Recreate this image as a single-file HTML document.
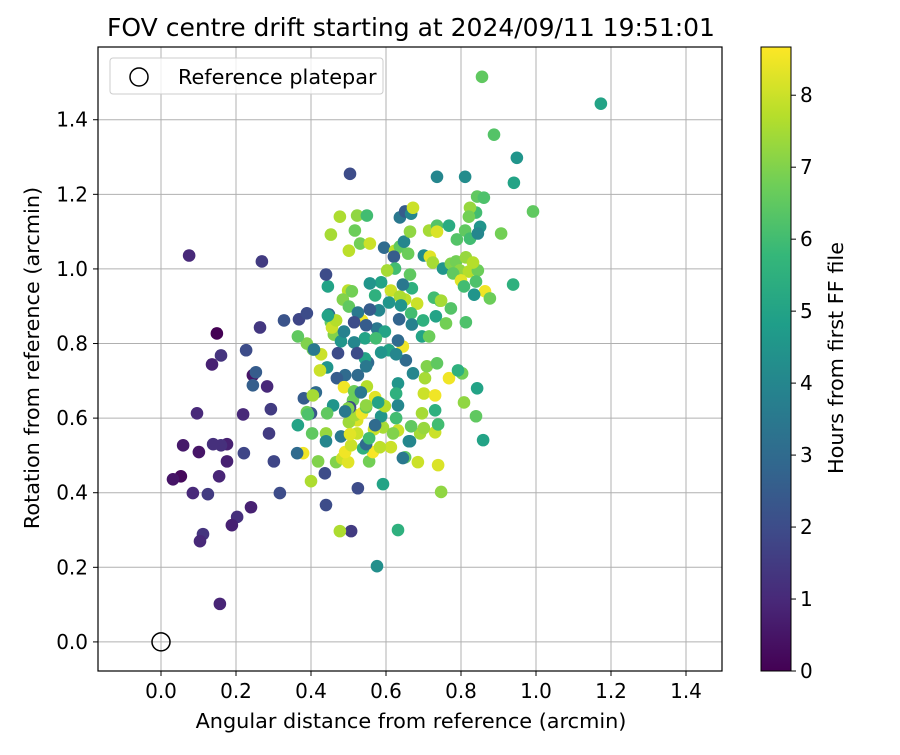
<!DOCTYPE html>
<html><head><meta charset="utf-8"><style>
html,body{margin:0;padding:0;background:#fff;}
svg text{font-family:"DejaVu Sans","Liberation Sans",sans-serif;fill:#000;}
</style></head><body>
<svg id="chart" width="900" height="750" xmlns="http://www.w3.org/2000/svg">
<text x="411" y="36" font-size="25" text-anchor="middle">FOV centre drift starting at 2024/09/11 19:51:01</text>
<g id="grid"></g>
<g id="points"></g>
<g id="axes"></g>
<text x="411" y="728" font-size="20.8" text-anchor="middle">Angular distance from reference (arcmin)</text>
<text transform="translate(39,358) rotate(-90)" font-size="20.8" text-anchor="middle">Rotation from reference (arcmin)</text>
<g>
<rect x="110" y="58" width="273" height="36" rx="3" fill="#fff" fill-opacity="0.8" stroke="#ccc"/>
<circle cx="139" cy="77" r="9" fill="none" stroke="#000" stroke-width="1.5"/>
<text x="178" y="84" font-size="20.8">Reference platepar</text>
</g>
<defs><linearGradient id="vir" x1="0" y1="1" x2="0" y2="0"></linearGradient></defs>
<g id="cbar"></g>
<text transform="translate(843,358) rotate(-90)" font-size="20.8" text-anchor="middle">Hours from first FF file</text>
</svg>
<script>
const xTicks=[0.0,0.2,0.4,0.6,0.8,1.0,1.2,1.4];
const yTicks=[0.0,0.2,0.4,0.6,0.8,1.0,1.2,1.4];
const cTicks=[0,1,2,3,4,5,6,7,8];
const xs=[1.173,.856,.888,.949,.941,.992,.907,.939,.504,.736,.811,.075,.269,.149,.16,.136,.227,.264,.368,.328,.245,.253,.245,.219,.096,.283,.293,.381,.288,.301,.176,.139,.16,.101,.221,.176,.059,.053,.032,.155,.085,.125,.317,.24,.203,.189,.112,.104,.157,.576,.632,.507,.477,.44,.437,.525,.592,.747,.739,.685,.651,.4,.419,.379,.467,.483,.499,.555,.565,.491,.507,.539,.613,.661,.859,.592,.568,.523,.523,.501,.517,.536,.632,.619,.691,.731,.701,.739,.696,.667,.632,.587,.584,.547,.571,.597,.808,.84,.843,.768,.704,.803,.792,.709,.632,.672,.653,.552,.544,.491,.443,.469,.488,.515,.549,.579,.512,.504,.459,.4,.389,.443,.499,.547,.403,.365,.44,.44,.48,.547,.555,.363,.392,.427,.424,.461,.472,.389,.365,.405,.445,.448,.453,.456,.467,.44,.453,.477,.517,.501,.523,.549,.531,.557,.595,.624,.637,.648,.637,.651,.667,.672,.664,.659,.621,.701,.715,.736,.768,.736,.717,.725,.752,.773,.787,.797,.779,.821,.845,.813,.832,.811,.824,.843,.861,.84,.851,.845,.824,.821,.789,.8,.864,.877,.835,.84,.808,.813,.744,.728,.747,.733,.773,.683,.651,.613,.637,.669,.645,.664,.624,.603,.587,.557,.571,.64,.635,.667,.669,.699,.696,.715,.76,.645,.608,.627,.587,.632,.576,.597,.581,.608,.536,.499,.509,.485,.501,.525,.557,.547,.515,.544,.573,.515,.48,.525,.533,.627,.701,.731,.736,.627,.731,.413,.523,.547,.389,.408,.488,.445,.405,.491,.571,.645,.664,.584,.504];
const ys=[1.443,1.515,1.36,1.298,1.231,1.154,1.095,.958,1.255,1.247,1.247,1.036,1.02,.827,.768,.744,.782,.843,.865,.862,.715,.723,.688,.61,.613,.685,.624,.653,.559,.484,.53,.53,.527,.509,.506,.484,.527,.444,.436,.444,.399,.396,.399,.361,.335,.313,.289,.27,.102,.203,.3,.297,.297,.367,.452,.412,.423,.402,.474,.482,.495,.431,.484,.506,.482,.492,.482,.484,.509,.509,.527,.519,.522,.538,.541,.575,.57,.559,.594,.589,.608,.613,.567,.559,.559,.562,.573,.583,.613,.578,.634,.605,.64,.629,.656,.632,.642,.605,.68,.707,.707,.72,.728,.739,.693,.72,.755,.749,.76,.715,.736,.707,.683,.672,.685,.642,.648,.629,.634,.613,.616,.613,.626,.634,.559,.581,.559,.538,.551,.53,.546,.506,.61,.771,.728,.824,.774,.8,.819,.784,.953,.878,.857,.843,.862,.985,1.092,1.14,1.103,1.049,1.143,1.143,1.068,1.068,1.057,1.049,1.06,1.073,1.138,1.154,1.148,1.164,1.1,1.041,1.033,1.036,1.103,1.116,1.116,1.1,1.033,1.017,1.001,1.014,1.02,.996,.988,.993,.996,1.031,1.017,1.103,1.081,1.194,1.191,1.151,1.113,1.095,1.164,1.14,1.079,.969,.94,.921,.931,.966,.953,.857,.915,.923,.915,.873,.894,.907,.918,.942,.926,.948,.958,.985,1.001,.996,.964,.961,.929,.902,.865,.881,.851,.862,.819,.819,.854,.792,.782,.771,.776,.808,.84,.832,.889,.91,.862,.942,.94,.918,.899,.883,.891,.849,.857,.814,.814,.803,.806,.715,.669,.666,.666,.661,.747,.6,.621,.669,.774,.739,.881,.784,.832,.875,.661,.618,.581,.493,.538,.522,.557];
const hours=[5,6.5,6.3,4.5,5,6.5,6.8,5.5,2,4,4.2,1,1.5,0,1.3,.8,2,1.4,1.8,2.2,.5,2.5,2.6,1,1,1,1.5,2.5,1.5,1.8,.8,1.2,1.2,.5,1.8,.8,.6,.2,.5,.9,1,1.5,2,.8,1.2,.8,1.3,1,.9,4.3,5.5,1.5,7.6,2,2,2,5,7.2,8.2,8,6.5,7.6,7,8.5,7,8,8.3,6.8,8.6,8.5,8,5.5,8,4.3,5,7.5,8,8,8.2,7.4,7.5,8.5,8,7,7.5,8,7.3,6,7.5,6.5,4,4.5,6.8,6.5,8.3,7.7,7.2,6.5,5,8.5,7.5,6.8,5.5,7,4.5,4,3,3,5,3,4.5,2.5,8.5,6.7,7.7,5,6.7,2,4.5,2.3,6.7,6.5,7,7.2,6.5,5,7.3,4,3.5,3,6,3,6.2,8,8,7,2,7,6.5,6.8,5,3,6.5,8,7.7,2,7.5,7.6,6.7,7.8,7.2,6,6.8,8,3,7.8,6.5,4,3.5,2.5,4,8,7.2,6.7,2.5,4.2,7.5,6.3,5.3,8.2,8.3,7.5,4.5,7,6.8,7.2,6.5,7.7,6.7,7.3,7.7,6.5,6,6.5,6.2,6,4.5,4,7.3,6.8,6.3,8.3,8.5,6.7,4.5,6.2,6,6.2,6.5,6,7.5,5,6.3,8,7.8,8,7.6,5.5,3.5,6.5,6,7.5,5,4.5,5.5,4.5,2.8,6,3.8,5.5,5,6.7,6.8,8.5,5,4,4.5,3,3.5,5,4,4.5,8.5,7.8,6.8,7,6.5,3.5,2.5,2.5,2,5,6,4,4.5,3,3.5,5.5,8,8.5,6.5,6,5.5,3,2,3.5,2,3.5,3.8,5,7.5,3.5,3,3.5,4,7.8,8.3];

const X0=98,X1=722,Y0=47,Y1=671;
const xmin=-0.168,xmax=1.496,ymin=-0.078,ymax=1.595,hmax=8.67;
const sx=v=>X0+(v-xmin)/(xmax-xmin)*(X1-X0);
const sy=v=>Y1-(v-ymin)/(ymax-ymin)*(Y1-Y0);
const vir=[[68,1,84],[72,40,120],[62,74,137],[49,104,142],[38,130,142],[31,158,137],[53,183,121],[110,206,88],[181,222,43],[253,231,37]];
function color(h){let t=Math.max(0,Math.min(1,h/hmax))*(vir.length-1);let i=Math.min(vir.length-2,Math.floor(t)),f=t-i;
 const c=vir[i].map((a,k)=>Math.round(a+(vir[i+1][k]-a)*f));return `rgb(${c[0]},${c[1]},${c[2]})`;}
const NS="http://www.w3.org/2000/svg";
function mk(tag,attrs,parent){const e=document.createElementNS(NS,tag);for(const k in attrs)e.setAttribute(k,attrs[k]);parent.appendChild(e);return e;}
const grid=document.getElementById('grid'),axes=document.getElementById('axes'),pts=document.getElementById('points');
xTicks.forEach(v=>{const x=sx(v);
 const g=mk('line',{x1:x,x2:x,y1:Y0,y2:Y1,stroke:'#b0b0b0','stroke-width':1},grid);
 
 
 const t=mk('line',{x1:x,x2:x,y1:Y1,y2:Y1+5,stroke:'#000'},axes);
 
 
 const l=mk('text',{x:x,y:Y1+27,'font-size':20,'text-anchor':'middle'},axes);l.textContent=v.toFixed(1);
 
 });
yTicks.forEach(v=>{const y=sy(v);
 const g=mk('line',{x1:X0,x2:X1,y1:y,y2:y,stroke:'#b0b0b0','stroke-width':1},grid);
 
 
 const t=mk('line',{x1:X0-5,x2:X0,y1:y,y2:y,stroke:'#000'},axes);
 
 
 const l=mk('text',{x:X0-10,y:y+7,'font-size':20,'text-anchor':'end'},axes);l.textContent=v.toFixed(1);
 
 });
const fr=mk('rect',{x:X0,y:Y0,width:X1-X0,height:Y1-Y0,fill:'none',stroke:'#000','stroke-width':1.2},axes);


xs.forEach((v,i)=>{const c=mk('circle',{cx:sx(v),cy:sy(ys[i]),r:6.3,fill:color(hours[i])},pts);
 
 });
const ref=mk('circle',{cx:sx(0),cy:sy(0),r:9,fill:'none',stroke:'#000','stroke-width':1.5},pts);


const grad=document.getElementById('vir');
vir.forEach((c,i)=>{mk('stop',{offset:(i/(vir.length-1)),'stop-color':`rgb(${c[0]},${c[1]},${c[2]})`},grad);});
const cb=document.getElementById('cbar');const CX=761,CW=30;
const cy=h=>Y1-h/hmax*(Y1-Y0);
const cr=mk('rect',{x:CX,y:Y0,width:CW,height:Y1-Y0,fill:'url(#vir)',stroke:'#000','stroke-width':1},cb);


cTicks.forEach(h=>{const y=cy(h);
 const t=mk('line',{x1:CX+CW,x2:CX+CW+5,y1:y,y2:y,stroke:'#000'},cb);
 
 
 const l=mk('text',{x:CX+CW+9,y:y+7,'font-size':20},cb);l.textContent=h;
 
 });
</script>
</body></html>
